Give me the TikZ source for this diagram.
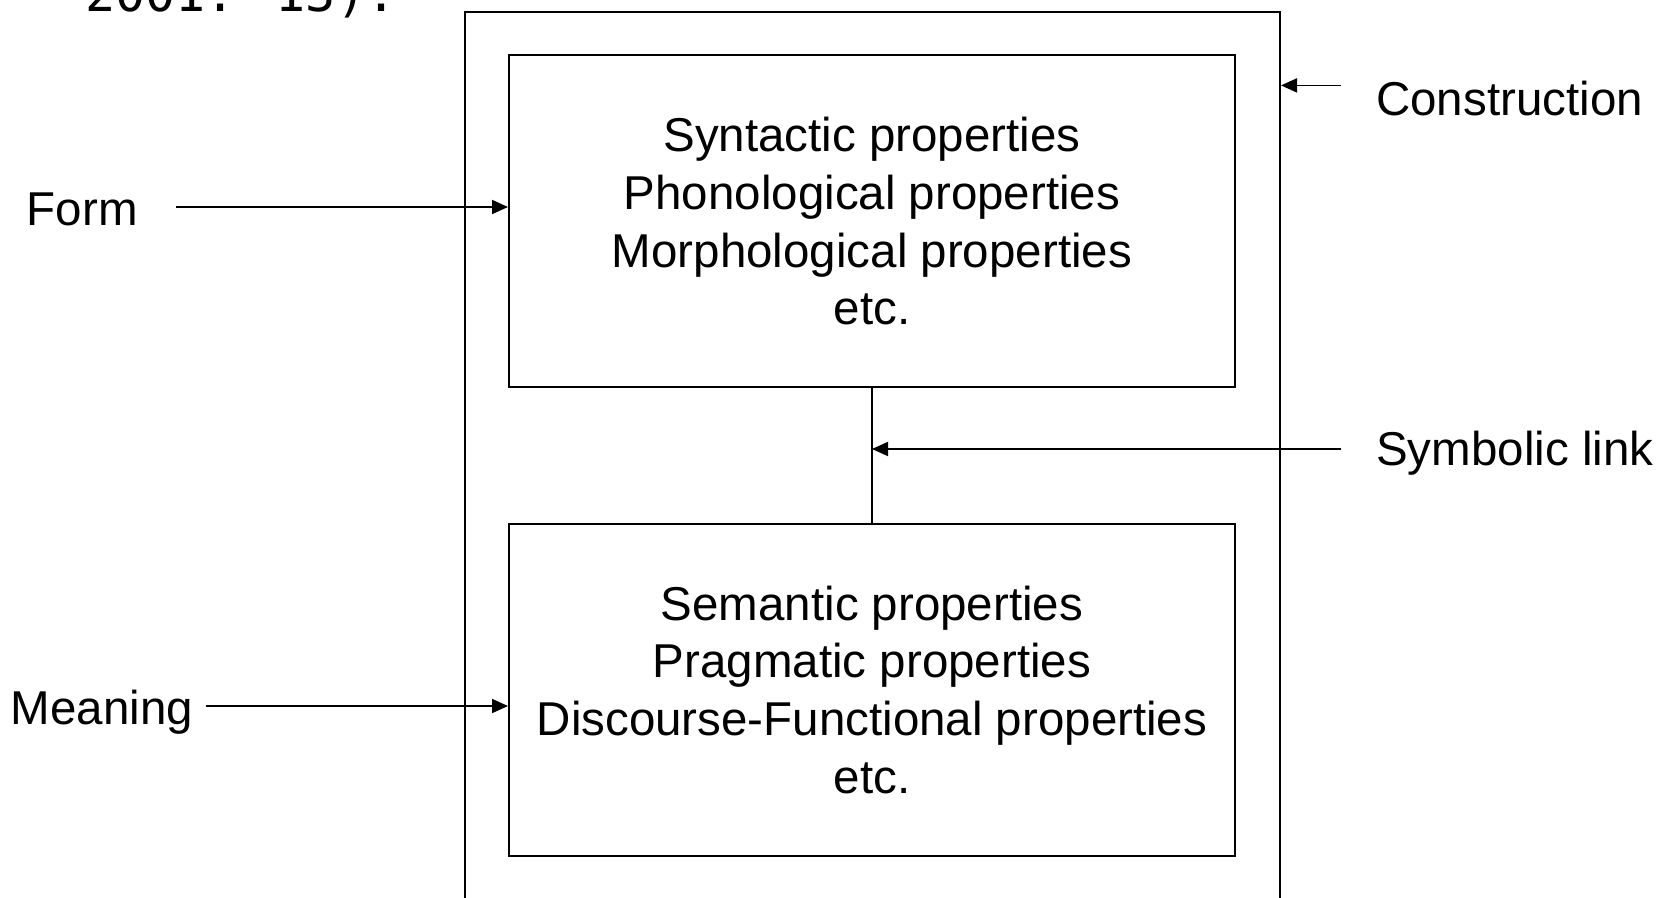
\documentclass[tikz,border=0pt]{standalone}
\usepackage{fontspec}
\setmainfont{Liberation Sans}
\newfontfamily\citefont{DejaVu Sans Mono}
\usetikzlibrary{arrows.meta}

\tikzset{
  box/.style={draw, line width=2pt, minimum width=726pt, minimum height=332pt,
    align=center, font=\fontsize{47.5}{57.7}\selectfont},
  lbl/.style={inner sep=0, anchor=base west, font=\fontsize{47.5}{57.7}\selectfont},
  arr/.style={line width=1.8pt, -{Triangle[length=16pt,width=14pt]}}
}

\begin{document}
\begin{tikzpicture}[x=1pt,y=-1pt]
\useasboundingbox (0,0) rectangle (1673,897);
\clip (0,0) rectangle (1673,897);
% cut-off citation at the top
\node[inner sep=0, anchor=base west, font=\citefont\fontsize{50}{60}\selectfont] (cite) at (85,11) {2001: 13).};
% construction and its two poles
\node[draw, line width=2pt, minimum width=815pt, minimum height=930pt, anchor=north west] (con) at (464,10.7) {};
\node[box] (syn) at (872,221.4) {Syntactic properties\\Phonological properties\\Morphological properties\\etc.};
\node[box] (sem) at (872,689.8) {Semantic properties\\Pragmatic properties\\Discourse-Functional properties\\etc.};
\draw[line width=2pt] (syn) -- (sem);
% labels
\node[lbl] (form) at (26.7,225) {Form};
\node[lbl] (mean) at (10.7,724) {Meaning};
\node[lbl] (cons) at (1376,115) {Construction};
\node[lbl] (sym) at (1376,465) {Symbolic link};
\coordinate (ft) at (176,207);
\coordinate (mt) at (206,706);
\coordinate (ct) at (1341,85.4);
\coordinate (st) at (1341,449);
\draw[arr] (ft) -- (ft -| syn.west);
\draw[arr] (mt) -- (mt -| sem.west);
\draw[arr] (ct) -- (ct -| con.east);
\draw[arr] (st) -- (st -| syn.south);
\end{tikzpicture}
\end{document}
